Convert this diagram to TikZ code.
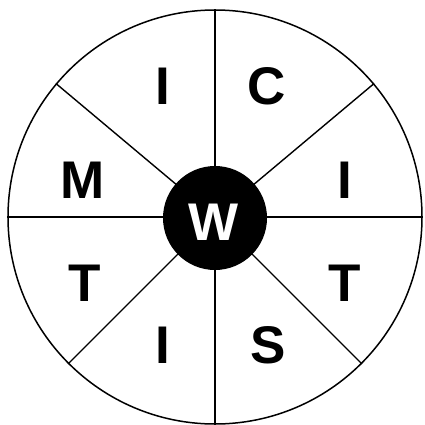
\documentclass[tikz,border=0pt]{standalone}
\usepackage{fontspec}
\setmainfont{Liberation Sans}
\begin{document}
\begin{tikzpicture}[x=1pt,y=1pt,
  ring/.style={circle,draw=black,line width=1.5pt,minimum size=414pt,inner sep=0pt},
  hub/.style={circle,fill=black,minimum size=104pt,inner sep=0pt,text=white,font=\bfseries\fontsize{53}{60}\selectfont},
  spoke/.style={draw=black,line width=1.4pt},
  letter/.style={anchor=base,inner sep=0pt,font=\bfseries\fontsize{53}{60}\selectfont}]
\useasboundingbox (0,0) rectangle (425,-425);
\node[ring] (outer) at (215,-217) {};
\foreach \a in {0,40,90,140,180,225,270,315}
  \draw[spoke] (outer.center) -- (outer.\a);
\node[hub] (w) at (215,-218) {};
\node[letter,text=white] (wl) at (214,-240) {W};
\node[letter] (l1) at (163,-105) {I};
\node[letter] (l2) at (267,-105) {C};
\node[letter] (l3) at (83,-198) {M};
\node[letter] (l4) at (345,-198) {I};
\node[letter] (l5) at (85,-301) {T};
\node[letter] (l6) at (345,-301) {T};
\node[letter] (l7) at (163,-363) {I};
\node[letter] (l8) at (268,-363) {S};
\end{tikzpicture}
\end{document}
